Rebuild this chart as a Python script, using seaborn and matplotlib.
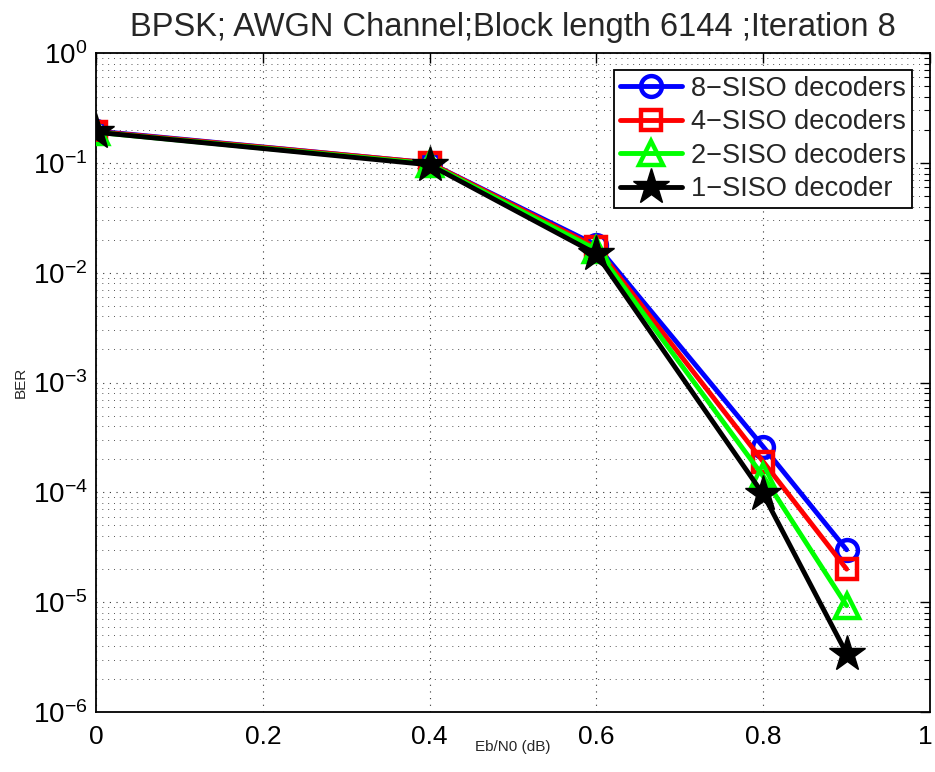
import numpy as np
import pandas as pd
import matplotlib
matplotlib.use("Agg")
import matplotlib.pyplot as plt
import matplotlib.transforms as mtransforms
import seaborn as sns
from matplotlib.ticker import LogLocator, NullFormatter, FixedLocator

# ---- data ----
ebn0 = [0.0, 0.4, 0.6, 0.8, 0.9]
ber_8siso = [0.195, 0.100, 0.0178, 2.6e-4, 3.0e-5]
ber_4siso = [0.193, 0.100, 0.0170, 1.9e-4, 2.0e-5]
ber_2siso = [0.190, 0.098, 0.0162, 1.4e-4, 9.3e-6]
ber_1siso = [0.190, 0.096, 0.0148, 9.6e-5, 3.4e-6]
series_names = ["8\u2212SISO decoders", "4\u2212SISO decoders",
                "2\u2212SISO decoders", "1\u2212SISO decoder"]
x_ticks = [0, 0.2, 0.4, 0.6, 0.8, 1]
x_tick_labels = ["0", "0.2", "0.4", "0.6", "0.8", "1"]
title_text = "BPSK; AWGN Channel;Block length 6144 ;Iteration 8"

sns.set_theme(style="white")
plt.rcParams['font.family'] = ['Liberation Sans', 'DejaVu Sans']

fig = plt.figure(figsize=(9.35, 7.72), dpi=100)
ax = fig.add_axes([0.1027, 0.0777, 0.892, 0.8536])

colors = ["#0000ff", "#ff0000", "#00ff00", "#000000"]
markers = ["o", "s", "^", "*"]
msizes = [15, 14, 17, 27]
all_y = [ber_8siso, ber_4siso, ber_2siso, ber_1siso]

for name, ys, c, m, ms in zip(series_names, all_y, colors, markers, msizes):
    df = pd.DataFrame({"x": ebn0, "y": ys})
    face = c if m == "*" else "none"
    sns.lineplot(data=df, x="x", y="y", ax=ax, color=c, linewidth=3.5,
                 marker=m, markersize=ms, markerfacecolor=face,
                 markeredgecolor=c, markeredgewidth=3.2 if m != "*" else 1,
                 label=name, zorder=3)

ax.set_yscale("log")
ax.set_xlim(0, 1)
ax.set_ylim(1e-6, 1)
ax.xaxis.set_major_locator(FixedLocator(x_ticks))
ax.set_xticklabels(x_tick_labels)
ax.yaxis.set_major_locator(LogLocator(base=10, numticks=10))
ax.yaxis.set_minor_locator(LogLocator(base=10, subs=np.arange(2, 10), numticks=100))
ax.yaxis.set_minor_formatter(NullFormatter())

ax.tick_params(axis="both", which="both", direction="in", top=True, right=True,
               colors="black")
ax.tick_params(axis="x", labelsize=19, pad=9)
ax.tick_params(axis="y", labelsize=20, pad=6)
ax.tick_params(which="major", length=7, width=1)
ax.tick_params(which="minor", length=4, width=0.8)

# keep the last x tick label ("1") inside the figure edge
last = ax.get_xticklabels()[-1]
last.set_transform(last.get_transform() +
                   mtransforms.ScaledTranslation(-5 / 100, 0, fig.dpi_scale_trans))

ax.grid(True, which="major", linestyle=(0, (1, 5)), color="#333333", linewidth=0.8)
ax.grid(True, which="minor", axis="y", linestyle=(0, (1, 5)), color="#555555", linewidth=0.7)
for s in ax.spines.values():
    s.set_color("black")
    s.set_linewidth(1.3)

ax.set_xlabel("Eb/N0 (dB)", fontsize=11, labelpad=-6)
ax.set_ylabel("BER", fontsize=11, labelpad=4)
ax.set_title(title_text, fontsize=23.5, pad=12)

leg = ax.legend(loc="upper right", fontsize=19.5, frameon=True, fancybox=False,
                edgecolor="black", framealpha=1, borderpad=0.2, handlelength=2.3,
                handletextpad=0.35, labelspacing=0.28, borderaxespad=0,
                bbox_to_anchor=(0.978, 0.974))
leg.get_frame().set_linewidth(1.3)

fig.savefig("out.png", dpi=100)
